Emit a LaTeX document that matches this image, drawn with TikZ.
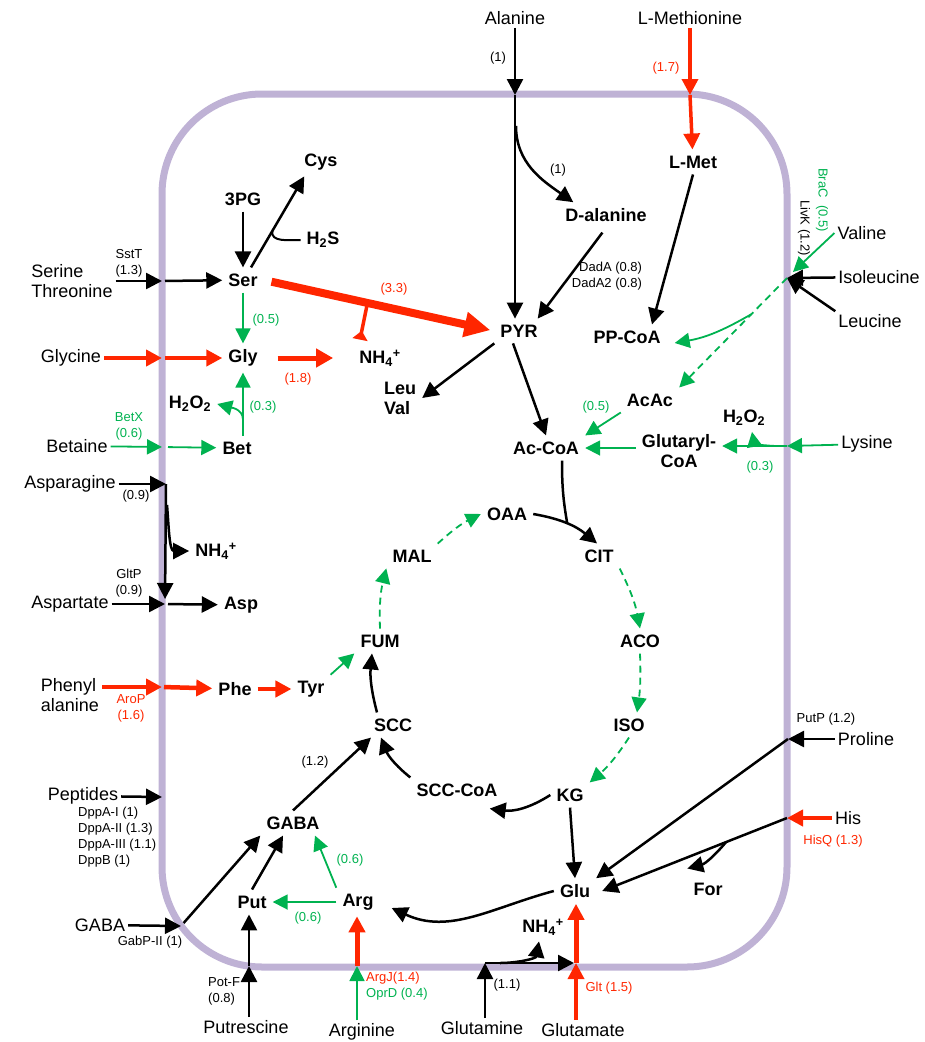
\documentclass[tikz,border=0pt]{standalone}
\usepackage{fontspec}
\setmainfont{Liberation Sans}
\usepackage{tikz}
\usetikzlibrary{arrows.meta}
\definecolor{cellWall}{RGB}{191,178,213}
\definecolor{fluxRed}{RGB}{255,38,0}
\definecolor{fluxGreen}{RGB}{0,178,80}
\tikzstyle{membrane} = [draw=cellWall, line width=7pt, rounded corners=100pt]
\tikzstyle{met} = [font={\fontsize{18}{20}\selectfont\bfseries}, inner sep=6pt]
\tikzstyle{ext} = [font={\fontsize{18}{20}\selectfont}, inner sep=3pt]
\tikzstyle{lbl} = [font={\fontsize{13}{16}\selectfont}, inner sep=0pt]
\tikzstyle{glbl} = [lbl, text=fluxGreen]
\tikzstyle{rlbl} = [lbl, text=fluxRed]
\tikzstyle{flux} = [line width=2.5pt, -{Triangle[length=16pt,width=16pt]}]
\tikzstyle{gflux} = [draw=fluxGreen, line width=1.8pt, -{Triangle[length=15pt,width=15pt]}]
\tikzstyle{rflux} = [draw=fluxRed, line width=4.5pt, -{Triangle[length=16pt,width=16pt]}]
\tikzstyle{tca} = [gflux, dash pattern=on 7pt off 5pt]

\begin{document}
\begin{tikzpicture}[x=1pt,y=1pt]
\useasboundingbox (0,0) rectangle (925,-1042);
\draw[membrane] (162,-94) rectangle (787,-967);

\coordinate (mAla) at (515,-95);
\coordinate (mMet) at (690,-95);
\coordinate (mSer) at (162,-281);
\coordinate (mGly) at (162,-358);
\coordinate (mBet) at (162,-447);
\coordinate (mAsn) at (166,-484);
\coordinate (mAsp) at (165,-604);
\coordinate (mPhe) at (162,-687);
\coordinate (mPep) at (162,-797);
\coordinate (mGab) at (181,-926);
\coordinate (mPut) at (249,-966);
\coordinate (mArg) at (357,-966);
\coordinate (mGln) at (485,-963);
\coordinate (mGlu) at (576,-963);
\coordinate (mBca) at (787,-278);
\coordinate (mLys) at (787,-446);
\coordinate (mPro) at (788,-739);
\coordinate (mHis) at (787,-818);
\coordinate (dalBr) at (516,-126);
\coordinate (lysBr) at (778,-446);
\coordinate (asnBr) at (167,-505);
\coordinate (glnBr) at (500,-963);

\draw
    (515,-18) node [ext] (ala) {Alanine}
    (690,-18) node [ext] (lmeth) {L-Methionine}
    (72,-281) node [ext, align=left] (serthr) {Serine\\Threonine}
    (71,-358) node [ext] (glycine) {Glycine}
    (77,-446) node [ext] (betaine) {Betaine}
    (70,-484) node [ext] (asn) {Asparagine}
    (70,-604) node [ext] (aspt) {Aspartate}
    (70,-695) node [ext, align=left] (phenyl) {Phenyl\\alanine}
    (83,-796) node [ext] (pep) {Peptides}
    (100,-925) node [ext] (gabaout) {GABA}
    (246,-1027) node [ext] (putr) {Putrescine}
    (362,-1032) node [ext] (arginine) {Arginine}
    (482,-1028) node [ext] (gln) {Glutamine}
    (583,-1030) node [ext] (glut) {Glutamate}
    (862,-233) node [ext] (val) {Valine}
    (879,-277) node [ext] (ile) {Isoleucine}
    (870,-321) node [ext] (leu) {Leucine}
    (867,-444) node [ext] (lys) {Lysine}
    (866,-739) node [ext] (pro) {Proline}
    (848,-818) node [ext] (his) {His};

\draw
    (321,-162) node [met] (cys) {Cys}
    (243,-199) node [met] (pg) {3PG}
    (323,-240) node [met] (h2s) {H\textsubscript{2}S}
    (243,-280) node [met] (ser) {Ser}
    (243,-358) node [met] (gly) {Gly}
    (380,-358) node [met] (nha) {NH\textsubscript{4}\textsuperscript{+}}
    (190,-404) node [met] (hpa) {H\textsubscript{2}O\textsubscript{2}}
    (237,-448) node [met] (bet) {Bet}
    (216,-551) node [met] (nhb) {NH\textsubscript{4}\textsuperscript{+}}
    (241,-605) node [met] (asp) {Asp}
    (235,-689) node [met] (phe) {Phe}
    (311,-689) node [met] (tyr) {Tyr}
    (606,-215) node [met] (dal) {D-alanine}
    (693,-162) node [met] (lmet) {L-Met}
    (519,-331) node [met] (pyr) {PYR}
    (627,-337) node [met] (ppcoa) {PP-CoA}
    (400,-398) node [met, align=left] (leuval) {Leu\\Val}
    (650,-400) node [met] (acac) {AcAc}
    (546,-448) node [met] (accoa) {Ac-CoA}
    (679,-451) node [met, align=center] (glucoa) {Glutaryl-\\CoA}
    (744,-418) node [met] (hpb) {H\textsubscript{2}O\textsubscript{2}}
    (507,-514) node [met] (oaa) {OAA}
    (412,-556) node [met] (mal) {MAL}
    (599,-556) node [met] (cit) {CIT}
    (380,-641) node [met] (fum) {FUM}
    (640,-641) node [met] (aco) {ACO}
    (629,-725) node [met] (iso) {ISO}
    (393,-725) node [met] (scc) {SCC}
    (570,-795) node [met] (kg) {KG}
    (457,-790) node [met] (scccoa) {SCC-CoA}
    (293,-823) node [met] (gaba) {GABA}
    (252,-902) node [met] (put) {Put}
    (358,-902) node [met] (arg) {Arg}
    (575,-891) node [met] (glu) {Glu}
    (543,-927) node [met] (nhc) {NH\textsubscript{4}\textsuperscript{+}}
    (708,-889) node [met] (for) {For};

\draw
    (498,-58) node [lbl] (nAla) {(1)}
    (558,-170) node [lbl] (nDal) {(1)}
    (666,-68) node [rlbl] (nMet) {(1.7)}
    (607,-276) node [lbl, align=right] (nDad) {DadA (0.8)\\DadA2 (0.8)}
    (822,-200) node [glbl, rotate=-90] (nBra) {BraC\ \ (0.5)}
    (804,-228) node [lbl, rotate=-90] (nLiv) {LivK (1.2)}
    (129,-263) node [lbl, align=center] (nSst) {SstT\\(1.3)}
    (394,-289) node [rlbl] (nSerPyr) {(3.3)}
    (266,-320) node [glbl] (nSerGly) {(0.5)}
    (298,-379) node [rlbl] (nGlyNh) {(1.8)}
    (263,-407) node [glbl] (nBetGly) {(0.3)}
    (129,-426) node [glbl, align=center] (nBet) {BetX\\(0.6)}
    (596,-407) node [glbl] (nAcac) {(0.5)}
    (760,-467) node [glbl] (nLys) {(0.3)}
    (136,-496) node [lbl] (nAsn) {(0.9)}
    (129,-583) node [lbl, align=center] (nGlt) {GltP\\(0.9)}
    (131,-708) node [rlbl, align=center] (nAro) {AroP\\(1.6)}
    (315,-762) node [lbl] (nGabaScc) {(1.2)}
    (78,-837) node [lbl, align=left, anchor=west] (nDpp) {DppA-I (1)\\DppA-II (1.3)\\DppA-III (1.1)\\DppB (1)}
    (150,-942) node [lbl] (nGab) {GabP-II (1)}
    (350,-860) node [glbl] (nArgGaba) {(0.6)}
    (308,-918) node [glbl] (nArgPut) {(0.6)}
    (208,-991) node [lbl, align=left, anchor=west] (nPot) {Pot-F\\(0.8)}
    (366,-986) node [lbl, align=left, anchor=west] (nArgT) {\textcolor{fluxRed}{ArgJ(1.4)}\\\textcolor{fluxGreen}{OprD (0.4)}}
    (507,-985) node [lbl] (nGln) {(1.1)}
    (609,-988) node [rlbl] (nGltT) {Glt (1.5)}
    (826,-719) node [lbl] (nPut) {PutP (1.2)}
    (833,-841) node [rlbl] (nHis) {HisQ (1.3)};

\draw[flux] (ala) -- (mAla);
\draw[flux] (mAla) -- (mAla |- pyr.north);
\draw[flux] (dalBr) to[out=-90,in=145] ([xshift=14pt]dal.north west);
\draw[rflux, line width=3.5pt] (lmeth) -- (mMet);
\draw[rflux, line width=3.5pt] (mMet) -- (lmet);
\draw[flux] (lmet.south) -- ([xshift=25pt]ppcoa.north);
\draw[flux, shorten <=6pt] (dal.south) -- ([xshift=-6pt]pyr.north east);

\draw[gflux] (val.west) -- ([shift={(6pt,6pt)}]mBca);
\draw[flux] (ile) -- (mBca);
\draw[flux] (leu.north west) -- (mBca);
\path (mBca) -- (acac.north east) coordinate[pos=0.33] (bcBr);
\draw[tca] (mBca) -- (acac.north east);
\draw[gflux] (bcBr) to[out=210,in=10] ([shift={(8pt,-6pt)}]ppcoa.east);
\draw[gflux] (acac.south west) -- (accoa.north east);
\draw[gflux] (glucoa.west |- accoa) -- (accoa.east);
\draw[gflux] (lys) -- (mLys);
\draw[gflux] (mLys) -- (glucoa.east |- mLys);
\draw[gflux] (lysBr) to[out=180,in=-80] ([xshift=8pt]hpb.south);

\draw[flux] ([xshift=-6pt]pyr.south) -- (accoa.north);
\draw[flux] (pyr.south west) -- (leuval.east);
\draw[rflux, line width=8pt, -{Triangle[length=26pt,width=24pt]}, shorten <=8pt, shorten >=4pt] (ser.east) -- (pyr.west);
\path (ser.east) -- (pyr.west) coordinate[pos=0.45] (serBr);
\draw[rflux, line width=3.5pt, -{Triangle[reversed,length=9pt,width=15pt]}] (serBr) -- ([xshift=-20pt,yshift=4pt]nha.north);
\draw[rflux, line width=5pt, -{Triangle[length=17pt,width=18pt]}, shorten <=14pt, shorten >=20pt] (gly) -- (nha);

\draw[flux] (pg) -- (ser);
\draw[gflux] (ser) -- (gly);
\draw[flux] ([xshift=8pt]ser.north) -- ([xshift=6pt]cys.south west);
\path ([xshift=8pt]ser.north) -- ([xshift=6pt]cys.south west) coordinate[pos=0.4] (cysBr);
\draw[line width=2pt] (cysBr) to[out=-100,in=180] (h2s.west);

\draw[flux] (serthr.east |- mSer) -- (mSer);
\draw[flux, shorten <=3pt] (mSer) -- (ser);
\draw[rflux] (glycine) -- (mGly);
\draw[rflux, shorten <=3pt] (mGly) -- (gly);
\draw[gflux] (betaine) -- (mBet);
\draw[gflux, shorten <=6pt] (mBet) -- (bet);
\draw[gflux] (bet.north -| gly) -- (gly.south);
\path (bet.north -| gly) -- (gly.south) coordinate[pos=0.25] (betBr);
\draw[gflux] (betBr) to[out=90,in=-15] (hpa.east);

\draw[flux] (asn) -- (mAsn);
\draw[flux, shorten >=5pt] (mAsn) -- (mAsp);
\draw[flux] (asnBr) to[out=-85,in=180] (nhb.west);
\draw[flux] (aspt) -- (mAsp);
\draw[flux, shorten <=3pt] (mAsp) -- (asp);
\draw[rflux] (phenyl.east |- mPhe) -- (mPhe);
\draw[rflux, shorten <=2pt] (mPhe) -- (phe);
\draw[rflux] (phe) -- (tyr);
\draw[gflux] (tyr.north east) -- (fum.south west);

\draw[tca] (fum.north) to[bend left=8] (mal.south west);
\draw[tca] (mal.north east) to[bend left=8] (oaa.west);
\draw[flux] (oaa.east) to[bend left=15] coordinate[pos=0.5] (citBr) ([xshift=-2pt]cit.north);
\draw[line width=2.5pt] ([xshift=16pt]accoa.south) to[out=-90,in=100] (citBr);
\draw[tca] (cit.south east) to[bend left=8] (aco.north);
\draw[tca] (aco.south) to[bend left=5] ([xshift=8pt]iso.north);
\draw[tca] (iso.south) to[bend left=8] (kg.north east);
\draw[flux] (kg.west) to[bend left=20] ([xshift=-14pt,yshift=-6pt]scccoa.south east);
\draw[flux] (scccoa.north west) to[bend left=15] ([xshift=-12pt]scc.south);
\draw[flux] ([xshift=-16pt]scc.north) to[bend left=10] ([xshift=-8pt]fum.south);

\draw[flux] (gaba.north) -- ([xshift=-22pt]scc.south);
\draw[flux] (put.north) -- ([xshift=-10pt]gaba.south);
\draw[gflux] (arg.west) -- (put.east);
\draw[gflux] (arg.north west) -- ([xshift=22pt]gaba.south);
\draw[flux] (pep) -- (mPep);
\draw[flux] (gabaout) -- (mGab);
\draw[flux, shorten <=4pt] (mGab) -- (gaba.south west);

\draw[flux] (putr.north -| mPut) -- (mPut);
\draw[flux] (mPut) -- (mPut |- put.south);
\draw[gflux] (arginine.north -| mArg) -- (mArg);
\draw[rflux, line width=5pt] (mArg) -- (mArg |- arg.south);
\draw[flux] (gln.north -| mGln) -- (mGln);
\draw[flux, shorten >=2pt] (mGln) -- (mGlu);
\draw[flux] (glnBr) to[out=0,in=-100] ([xshift=-4pt]nhc.south);
\draw[rflux, line width=3.5pt] (glut.north -| mGlu) -- (mGlu);
\draw[rflux, line width=5pt] (mGlu) -- (mGlu |- glu.south);
\draw[flux] (kg.south) -- (glu.north);
\draw[flux] (glu.west) to[out=-165,in=-25] ([shift={(12pt,-6pt)}]arg.east);

\draw[flux] (pro) -- (mPro);
\draw[flux] (mPro) -- (glu.north east);
\draw[rflux] (his) -- (mHis);
\draw[flux] (mHis) -- ([xshift=6pt]glu.east);
\path (mHis) -- ([xshift=6pt]glu.east) coordinate[pos=0.33] (hisBr);
\draw[flux] (hisBr) to[out=-130,in=15] ([yshift=8pt]for.north west);
\end{tikzpicture}
\end{document}
